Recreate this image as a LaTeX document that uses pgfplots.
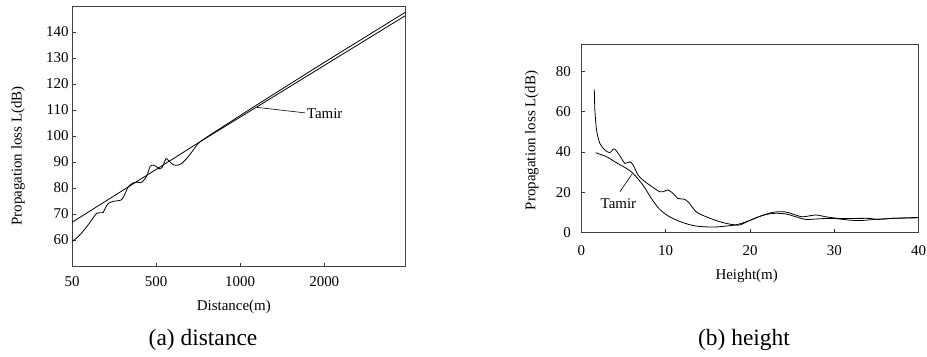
\documentclass[border=0pt]{standalone}
\usepackage{pgfplots}
\pgfplotsset{compat=1.18}
\usepackage{fontspec}
\setmainfont{Liberation Serif}
\begin{document}
\begin{tikzpicture}[x=1bp,y=1bp]
\useasboundingbox (0,0) rectangle (927,356);
\coordinate (PA) at (72,90);
\coordinate (PB) at (581.3,123.3);
\pgfplotsset{
  every axis/.append style={
    scale only axis,
    axis line style={black!75, line width=0.9bp},
    tick style={black!80, line width=0.8bp},
    tick align=inside,
    xtick pos=bottom, ytick pos=left,
    major tick length=3.5bp,
    /pgf/number format/assume math mode=true,
    tick label style={font=\fontsize{15}{15}\selectfont},
    label style={font=\fontsize{15}{15}\selectfont},
    clip=false,
  },
}
% (a) distance
\begin{axis}[
  at={(PA)}, anchor=south west,
  width=333bp, height=260bp,
  xmin=0, xmax=3.96, ymin=50, ymax=150,
  xtick={0,1,2,3}, xticklabels={50,500,1000,2000},
  ytick={60,70,...,140},
  xticklabel style={yshift=-7.5bp},
  xlabel={Distance(m)},
  ylabel={Propagation loss L(dB)},
  xlabel style={at={(rel axis cs:0.486,0)}, anchor=center, yshift=-40.7bp},
  ylabel style={at={(rel axis cs:0,0.423)}, anchor=center, yshift=54bp},
]
\addplot[black, line width=0.8bp] coordinates {(0,66.8) (1.524,97.8) (3.96,146.2)};
\addplot[black, line width=0.8bp, smooth, tension=0.4] coordinates {
(0,59.4) (0.08,61.5) (0.175,65.1) (0.24,68) (0.294,70.3) (0.333,70.5) (0.37,70.6)
(0.40,72.5) (0.433,74.1) (0.492,74.9) (0.55,75.1) (0.59,75.5) (0.62,77) (0.67,80.5)
(0.73,82) (0.78,82.2) (0.829,82.2) (0.889,84.6) (0.929,88.3) (0.968,88.8) (1.0,88.3)
(1.04,87.4) (1.07,87.8) (1.119,91.3) (1.147,90.6) (1.206,88.9) (1.26,88.8) (1.30,89.3)
(1.365,91.4) (1.44,94.5) (1.524,97.8) (1.8,103.7) (2.2,112.0) (3.0,128.3) (3.96,147.5)};
\draw[black, line width=0.6bp] (axis cs:2.2,111.0) -- (axis cs:2.77,108.9);
\node[anchor=west, font=\fontsize{15}{15}\selectfont, inner sep=1bp] at (axis cs:2.78,108.6) {Tamir};
\end{axis}
% (b) height
\begin{axis}[
  at={(PB)}, anchor=south west,
  width=337.4bp, height=188.4bp,
  xmin=0, xmax=40, ymin=0, ymax=93.5,
  xtick={0,10,...,40}, ytick={0,20,...,80},
  xticklabel style={yshift=-9.5bp},
  yticklabel style={xshift=-7bp},
  xlabel={Height(m)},
  ylabel={Propagation loss L(dB)},
  xlabel style={at={(rel axis cs:0.49,0)}, anchor=center, yshift=-43.3bp},
  ylabel style={at={(rel axis cs:0,0.49)}, anchor=center, yshift=49.6bp},
]
\addplot[black, line width=0.8bp, smooth, tension=0.45] coordinates {
(1.54,71.1) (1.61,60.8) (1.81,50.9) (2.2,44.3) (2.8,41) (3.39,39.7) (3.78,41.5)
(4.09,41) (4.76,36.9) (5.16,34.4) (5.75,35.2) (6.14,33.6) (6.73,28.6) (7.32,26.1)
(8.11,23.6) (9.29,20.3) (9.69,20.3) (10.28,21.2) (10.87,19.5) (11.46,17.0)
(12.13,16.7) (12.64,15.4) (13.62,10.4) (14.8,7.9) (16.38,5.5) (17.56,4.3)
(18.74,3.8) (19.92,6.0) (21.1,8.0) (22.68,10.1) (24.06,10.4) (25.04,9.3)
(26.22,7.9) (27.8,8.8) (28.98,7.9) (30.55,7.1) (32.91,7.1) (34.09,7.1)
(35.28,6.6) (36.85,7.1) (40,7.4)};
\addplot[black, line width=0.8bp, smooth, tension=0.5] coordinates {
(1.69,39.7) (2.99,37.7) (4.17,34.7) (5.35,31.9) (6.14,29.4) (7.32,23.6) (8.31,17.0)
(9.29,11.6) (10.47,7.9) (12.05,5.0) (13.62,3.3) (15.59,2.8) (17.17,3.3) (18.54,4.1)
(19.92,6.0) (21.5,8.6) (22.87,9.6) (24.25,9.3) (25.43,7.9) (26.61,6.6) (28.19,6.9)
(29.76,7.1) (31.73,6.3) (32.91,6.0) (34.88,6.6) (36.85,7.1) (40,7.6)};
\draw[black, line width=0.6bp] (axis cs:4.57,20.3) -- (axis cs:6.06,29.4);
\node[font=\fontsize{15}{15}\selectfont] at (axis cs:4.4,14.2) {Tamir};
\end{axis}
\node[font=\fontsize{23.5}{24}\selectfont] at (203,16) {(a) distance};
\node[font=\fontsize{23.5}{24}\selectfont] at (744,16) {(b) height};
\end{tikzpicture}
\end{document}
